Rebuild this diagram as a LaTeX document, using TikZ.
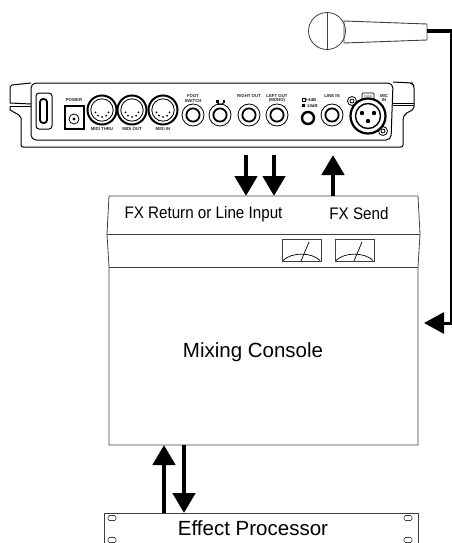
\documentclass[tikz,border=0pt]{standalone}
\usepackage{fontspec}
\setmainfont{Liberation Sans}
\usetikzlibrary{arrows.meta,calc}
\tikzset{
  ln/.style={draw=black!75,line width=.8pt},
  hw/.style={draw=black,line width=1pt},
  sig/.style={line width=4.6pt,draw=black,-{Triangle[width=22pt,length=20pt]},shorten >=0pt},
  cable/.style={draw=black,line width=2pt},
  silk/.style={font=\fontsize{4.3}{4.6}\selectfont\bfseries,align=center,inner sep=0pt,text=black!85},
  big/.style={font=\fontsize{20.5}{22}\selectfont,inner sep=0pt},
  narrow/.style={font=\fontsize{16.7}{18}\selectfont,inner sep=0pt,xscale=.91,transform shape},
  hole/.style={draw=black!75,line width=.7pt,rounded corners=1.5pt,minimum width=8pt,minimum height=5pt,inner sep=0pt},
  jackr/.style={circle,draw=black,line width=.8pt,minimum size=22pt,inner sep=0pt},
  midi/.style={circle,draw=black,line width=2pt,minimum size=29pt,inner sep=0pt},
  meter/.style={draw=black!75,line width=.8pt,minimum width=39pt,minimum height=22pt,inner sep=0pt},
}
\begin{document}
\begin{tikzpicture}[x=1pt,y=-1pt]
\useasboundingbox (0,0) rectangle (452,543);
\clip (0,0) rectangle (452,543);
% microphone
\node[circle,ln,minimum size=37pt,inner sep=0pt] (head) at (327,31) {};
\draw[ln] (head.north) -- (head.south);
\coordinate (micA) at (344,21);
\coordinate (micB) at (427,24);
\coordinate (micC) at (427,40);
\coordinate (micD) at (344,43);
\draw[ln,line width=.9pt] (micA) -- (micB) -- (micC) -- (micD) -- cycle;
\coordinate (micOut) at (427,31);
\coordinate (corner) at (451,31);
\coordinate (down) at (451,323);
% panel outer
\draw[hw] (31,83) -- (12,85) -- (10,87) -- (10,103) -- (31,104);
\draw[hw] (10,106) -- (31,106);
\draw[hw] (10,106) -- (10,110) -- (19,115) -- (21,118) -- (21,144) [rounded corners=2pt] -- (21,147) -- (403,147) -- (403,118) -- (405,114) -- (414,109) -- (414,86) -- (412,83) -- (393,82);
\draw[hw] (393,103) -- (414,103);
\draw[hw] (393,105) -- (414,105);
\draw[hw,rounded corners=5pt] (31,83) -- (393,83) -- (391,140) -- (31,140) -- cycle;
% switch
\draw[hw,rounded corners=3pt] (36,93) rectangle (52,129);
\draw[line width=1.8pt,rounded corners=3pt] (40,99) rectangle (47,123);
% power
\node[silk] (lpower) at (74,100) {POWER};
\draw[line width=1.5pt] (65,106) rectangle (84,129);
\node[circle,draw=black,line width=.8pt,minimum size=10pt,inner sep=0pt] (pjack) at (74,119) {};
\fill (pjack) circle (1.6);
% midi
\foreach \n/\x/\t in {a/102/MIDI THRU,b/132/MIDI OUT,c/163/MIDI IN}{
  \node[midi] (m\n) at (\x,110) {};
  \draw[line width=.8pt] (m\n) circle (11.2);
  \foreach \ang in {-20,-55,-90,-125,-160} \fill (m\n) ++(\ang:-7) circle (1);
  \node[silk] at (\x,129) {\t};
}
% jacks
\foreach \n/\x in {fs/193,hp/220,ro/249,lo/277,li/332}{
  \node[jackr] (j\n) at (\x,115) {};
  \draw[line width=1.8pt] (j\n) circle (6.6);
}
\node[silk] at (193,98.5) {FOOT\\SWITCH};
\draw[line width=1pt] (217,101) arc (180:0:3.5);
\fill (216,100) rectangle (218.5,103);
\fill (222.5,100) rectangle (225,103);
\node[silk] at (249,96) {RIGHT OUT};
\node[silk] at (277,98.5) {LEFT OUT\\(MONO)};
\node[silk] at (332,96) {LINE IN};
% small switch
\node[circle,draw=black,line width=2.4pt,minimum size=12pt,inner sep=0pt] (sw) at (308,118) {};
\draw[line width=.5pt] (302,98) rectangle (305,101);
\fill (302,104) rectangle (305,107);
\node[silk,anchor=west] at (305.5,99.5) {+4dB};
\node[silk,anchor=west] at (305.5,105.5) {-10dB};
% XLR
\draw[line width=.7pt,rounded corners=1pt] (362,100) -- (362,93) -- (374,93) -- (374,100);
\node[silk,font=\fontsize{2.8}{3}\selectfont] at (368,97) {PUSH};
\node[circle,draw=black,line width=.8pt,minimum size=9pt,inner sep=0pt] (s1) at (352,101) {};
\node[circle,draw=black,line width=.8pt,minimum size=9pt,inner sep=0pt] (s2) at (383,131) {};
\draw[line width=.8pt] (s1) circle (2); \draw[line width=.8pt] (s2) circle (2);
\node[circle,draw=black,line width=2.2pt,fill=white,minimum size=35pt,inner sep=0pt] (xlr) at (368,116) {};
\draw[line width=1.4pt] (xlr) circle (12.5);
\fill (362,113) circle (2.2) (374,113) circle (2.2) (368,121) circle (2.2);
\node[silk] at (384,98) {MIC\\IN};
% console
\coordinate (cTL) at (109,196); \coordinate (cTR) at (418,196);
\coordinate (cML) at (107,234); \coordinate (cMR) at (420,234);
\coordinate (cLL) at (109,267); \coordinate (cLR) at (418,267);
\coordinate (cBL) at (109,445); \coordinate (cBR) at (418,445);
\draw[ln] (cTL) -- (cTR) -- (cMR) -- (cLR) -- (cBR) -- (cBL) -- (cLL) -- (cML) -- cycle;
\draw[ln] (cML) -- (cMR);
\draw[ln] (cLL) -- (cLR);
\node[narrow] (fxr) at (203.5,214) {FX Return or Line Input};
\node[narrow] (fxs) at (359,214) {FX Send};
\node[big] (mix) at (253,352) {Mixing Console};
\foreach \n/\x in {a/301.5,b/354.5}{
  \node[meter] (v\n) at (\x,250) {};
  \draw[line width=.7pt] (\x-18.5,260.5) .. controls (\x-10,252) and (\x+10,252) .. (\x+18.5,260.5);
  \draw[line width=.7pt] (\x-.5,261) -- (\x+7.5,242);
}
% effect
\draw[ln] (104,560) -- (104,513) -- (418,513) -- (418,560);
\node[big] (fx) at (253,528.5) {Effect Processor};
\node[hole] (h1) at (112,518) {}; \node[hole] (h2) at (112,540) {};
\node[hole] (h3) at (408,518) {}; \node[hole] (h4) at (408,540) {};
% connectors
\coordinate (p1) at (246,155); \coordinate (p2) at (274,155);
\coordinate (p3) at (333,155);
\draw[sig] (p1) -- (p1 |- cTL);
\draw[sig] (p2) -- (p2 |- cTL);
\draw[sig] (p3 |- cTL) -- (p3);
\coordinate (e1) at (164,513); \coordinate (e2) at (184,513);
\draw[sig] (e1) -- (e1 |- cBL);
\draw[sig] (e2 |- cBL) -- (e2);
\draw[cable,line width=4pt] (micOut) -- ($(corner)+(1,0)$);
\draw[cable] (corner) -- (down);
\draw[line width=3pt,draw=black,-{Triangle[width=21pt,length=20pt]}] ($(down)+(1,0)$) -- (424,323);
\end{tikzpicture}
\end{document}
